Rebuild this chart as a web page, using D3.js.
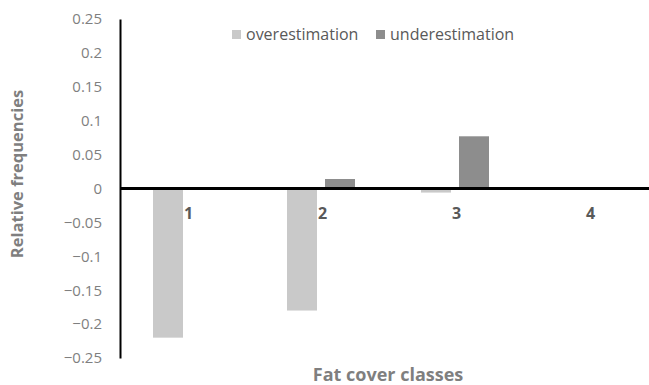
<!DOCTYPE html>
<html>
<head>
<meta charset="utf-8">
<script src="https://cdn.jsdelivr.net/npm/d3@7"></script>
<style>
  body { margin: 0; background: #fff; }
  svg { display: block; font-family: 'Open Sans', sans-serif; }
</style>
</head>
<body>
<svg width="649" height="385"></svg>
<script>
var categories = ['1', '2', '3', '4']
var seriesNames = ['overestimation', 'underestimation']
var overestimation = [-0.22, -0.18, -0.006, 0]
var underestimation = [0, 0.014, 0.077, 0]
var yTicks = [0.25, 0.2, 0.15, 0.1, 0.05, 0, -0.05, -0.1, -0.15, -0.2, -0.25]

var colors = { overestimation: '#c9c9c9', underestimation: '#8d8d8d' }

var svg = d3.select('svg')

var data = categories.map((c, i) => ({
  cat: c,
  values: [
    { key: 'overestimation', value: overestimation[i] },
    { key: 'underestimation', value: underestimation[i] }
  ]
}))

var y = d3.scaleLinear()
  .domain([-0.25, 0.25])
  .range([358, 19])

var x0 = d3.scaleBand()
  .domain(categories)
  .range([120, 656])
  .paddingInner(0.4925)
  .paddingOuter(0.4925 / 2)

var x1 = d3.scaleBand()
  .domain(seriesNames)
  .range([0, x0.bandwidth()])
  .paddingInner(0.2105)

// bars
var groups = svg.append('g')
  .selectAll('g')
  .data(data)
  .enter()
  .append('g')
  .attr('transform', (d) => 'translate(' + x0(d.cat) + ',0)')

groups.selectAll('rect')
  .data((d) => d.values)
  .enter()
  .append('rect')
  .attr('x', (d) => x1(d.key))
  .attr('width', x1.bandwidth())
  .attr('y', (d) => y(Math.max(0, d.value)))
  .attr('height', (d) => Math.abs(y(d.value) - y(0)))
  .style('fill', (d) => colors[d.key])

// y axis
var yAxis = d3.axisLeft(y)
  .tickValues(yTicks)
  .tickSize(0)
  .tickPadding(18)
  .tickFormat((d) => d3.format('')(+d.toFixed(2)))

var yG = svg.append('g')
  .attr('transform', 'translate(120,0)')
  .call(yAxis)

yG.select('.domain')
  .attr('stroke', '#000')
  .attr('stroke-width', 2)
yG.selectAll('text')
  .style('font-family', "'Open Sans', sans-serif")
  .style('font-size', '15px')
  .style('fill', '#7f7f7f')

// x axis line at zero
svg.append('line')
  .attr('x1', 120)
  .attr('x2', 649)
  .attr('y1', y(0))
  .attr('y2', y(0))
  .attr('stroke', '#000')
  .attr('stroke-width', 3)

// category labels
svg.append('g')
  .selectAll('text')
  .data(categories)
  .enter()
  .append('text')
  .attr('x', (d) => x0(d) + x0.bandwidth() / 2 + 1.5)
  .attr('y', y(0) + 30)
  .attr('text-anchor', 'middle')
  .style('font-size', '16px')
  .style('font-weight', 'bold')
  .style('fill', '#595959')
  .text((d) => d)

// legend
var legendX = [232, 376]
var leg = svg.append('g')
  .selectAll('g')
  .data(seriesNames)
  .enter()
  .append('g')
  .attr('transform', (d, i) => 'translate(' + legendX[i] + ',30)')

leg.append('rect')
  .attr('width', 9)
  .attr('height', 9)
  .style('fill', (d) => colors[d])

leg.append('text')
  .attr('x', 14)
  .attr('y', 10)
  .style('font-size', '16px')
  .style('fill', '#595959')
  .text((d) => d)

// axis titles
svg.append('text')
  .attr('transform', 'translate(23,174) rotate(-90)')
  .attr('text-anchor', 'middle')
  .style('font-size', '16.5px')
  .style('font-weight', 'bold')
  .style('fill', '#7f7f7f')
  .text('Relative frequencies')

svg.append('text')
  .attr('x', 388)
  .attr('y', 381)
  .attr('text-anchor', 'middle')
  .style('font-size', '18px')
  .style('font-weight', 'bold')
  .style('fill', '#7f7f7f')
  .text('Fat cover classes')
</script>
</body>
</html>
